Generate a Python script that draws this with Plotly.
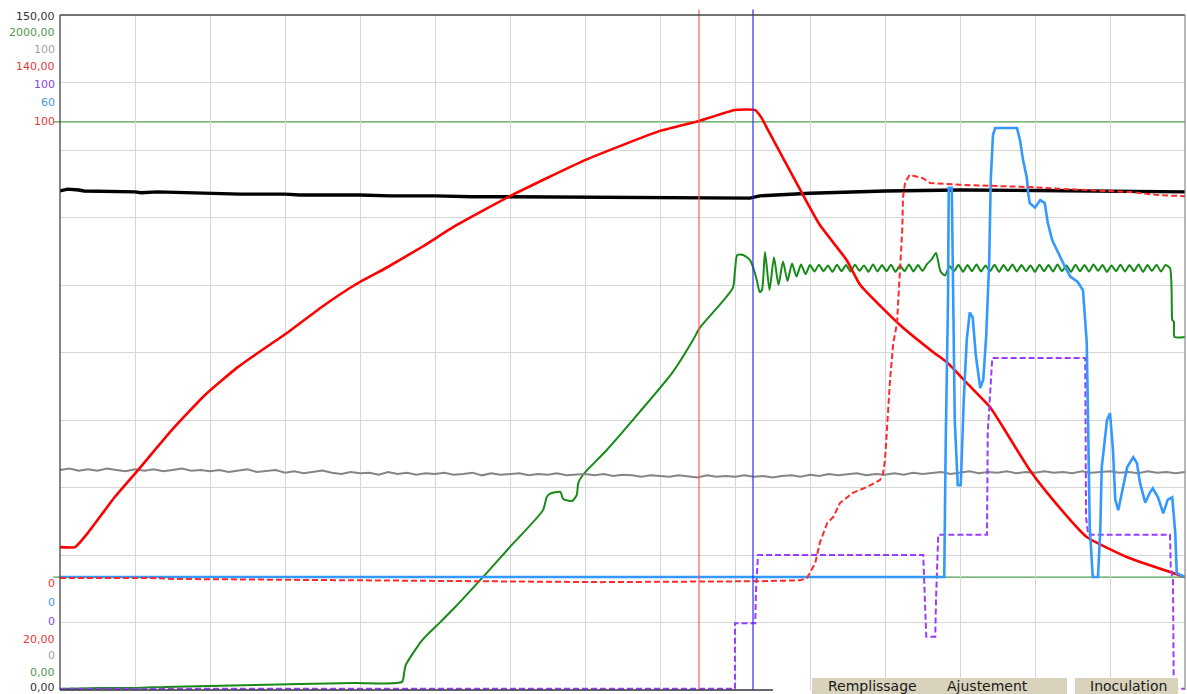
import plotly.graph_objects as go

# ---------------- data (time in minutes) ----------------
black_t = [0, 1, 2.5, 3.2, 10, 10.8, 13, 20, 24, 30, 32, 40, 44, 50, 55, 60, 70, 80, 86, 92,
           93.3, 95, 97, 100, 110, 120, 130, 140, 150]
black_v = [110.9, 111.3, 111.1, 110.9, 110.7, 110.5, 110.7, 110.4, 110.2, 110.2, 110.0, 110.0,
           109.8, 109.8, 109.6, 109.6, 109.5, 109.3, 109.2, 109.3, 109.8, 110.0, 110.2, 110.4,
           110.9, 111.1, 111.0, 110.9, 110.7]

gray_step = 1.25
gray_v = [32.6, 32.8, 32.5, 32.7, 32.5, 32.8, 32.6, 32.4, 32.7,
          32.5, 32.7, 32.4, 32.6, 32.8, 32.5, 32.6, 32.4,
          32.6, 32.3, 32.5, 32.7, 32.3, 32.4, 32.6, 32.2,
          32.4, 32.1, 32.3, 32.5, 32.2, 32.0, 32.3, 32.1,
          32.2, 31.9, 32.3, 32.0, 32.2, 31.9, 32.1, 32.0,
          32.2, 31.9, 32.0, 32.2, 31.8, 32.1, 31.9, 32.0,
          32.1, 31.8, 32.0, 31.9, 32.1, 31.8, 31.9, 32.0,
          31.8, 32.0, 31.7, 31.9, 31.8, 31.6, 31.8, 31.7,
          31.6, 31.8, 31.7, 31.5, 31.8, 31.6, 31.7, 31.6,
          31.8, 31.6, 31.7, 31.5, 31.7, 31.8, 31.6, 31.9,
          31.7, 32.0, 31.8, 31.9, 32.1, 31.8, 32.0, 31.9,
          32.1, 31.9, 32.2, 32.0, 32.1, 32.3, 32.0, 32.2,
          32.4, 32.1, 32.3, 32.2, 32.4, 32.1, 32.3, 32.2,
          32.4, 32.2, 32.3, 32.1, 32.4, 32.2, 32.3, 32.4,
          32.2, 32.3, 32.1, 32.4, 32.2, 32.3, 32.1, 32.3]

green_t_ramp = [0, 5.3, 10, 14, 20, 26, 32, 39.3, 45.6, 45.9, 46.1, 48.3, 50.7, 52.7, 56.9, 60,
                64.4, 64.9, 65.3, 66.7, 67.1, 68.3, 68.9, 69.1, 69.7, 72.9, 77.3, 81.7, 84.4,
                85.3, 89.7, 90.0, 90.3, 91.1, 92.0, 92.4, 92.9, 93.3, 93.6]
green_v_ramp = [3, 6, 6, 9, 12, 15, 18, 21, 24, 53, 74, 148, 201, 246, 347, 424, 533, 572, 581,
                587, 566, 560, 578, 613, 637, 711, 824, 942, 1037, 1073, 1191, 1244, 1289, 1289,
                1274, 1253, 1215, 1179, 1185]
green_osc_start = 94.0
green_osc_step = 0.6
green_v_osc = [1298, 1185, 1282, 1200, 1270, 1212, 1264, 1225, 1261, 1232,
               1259, 1240, 1260, 1241, 1258, 1239, 1260, 1241, 1259, 1240,
               1260, 1242, 1258, 1239, 1261, 1240, 1259, 1241, 1260, 1239,
               1258, 1241, 1261, 1240, 1259, 1242, 1262, 1275, 1295, 1240,
               1228, 1256, 1241, 1260, 1239, 1259, 1241, 1261, 1240, 1258,
               1241, 1260, 1239, 1259, 1242, 1261, 1240, 1259, 1241, 1258,
               1239, 1260, 1241, 1259, 1240, 1261, 1241, 1258, 1239, 1260,
               1241, 1259, 1240, 1261, 1242, 1259, 1239, 1258, 1241, 1260,
               1240, 1259, 1241, 1261, 1239, 1259, 1242, 1260, 1240, 1259,
               1250]
green_t_tail = [148.27, 148.33, 148.53, 148.6, 150]
green_v_tail = [1102, 1096, 1090, 1046, 1046]

red_t = [0, 2, 3.7, 7.3, 10.4, 14.9, 19.3, 23.7, 26.9, 30.4, 34.9, 39.3, 43.7, 48.3, 52.7, 60,
         70, 80, 85.3, 90, 92.7, 93.5, 94.5, 98.7, 101.3, 104.9, 106.7, 112, 116.4, 118.4, 120.9,
         124, 125.7, 129.3, 132.4, 136.9, 142.3, 148.4, 150]
red_v = [45.4, 45.4, 47.9, 54.3, 59.1, 66.2, 72.4, 77.4, 80.4, 83.6, 88.1, 92.0, 95.2, 98.8,
         102.5, 107.8, 114.2, 119.4, 121.2, 123.1, 123.1, 121.8, 119.3, 108.9, 102.7, 96.4, 92.0,
         84.9, 80.1, 78.1, 74.6, 70.3, 66.8, 59.1, 53.8, 47.2, 43.6, 40.8, 40.1]

reddash_t = [0, 12, 15.3, 44.7, 50.7, 72, 93.3, 98.7, 99.6, 100.7, 101.3, 102.3, 103.1, 104,
             105.7, 107.6, 109.3, 109.7, 110, 110.3, 110.7, 111.1, 111.6, 112, 112.3, 112.4,
             112.7, 113.3, 115.1, 116, 120, 125.3, 129.3, 136, 142.7, 146.7, 150]
reddash_v = [-0.2, -0.2, -0.4, -0.7, -0.9, -1.1, -0.9, -0.7, -0.2, 3.1, 7.5, 11.9, 13.2, 16.3,
             18.5, 19.8, 21.3, 22.4, 25.7, 34.5, 44.0, 51.4, 55.8, 67.5, 76.3, 83.5, 86.8, 88.4,
             87.6, 86.6, 86.2, 85.9, 85.7, 85.1, 84.6, 83.9, 83.7]

purple_t = [0, 90, 90, 92.7, 92.8, 93.07, 115.1, 115.2, 115.5, 116.7, 116.8, 117.1, 123.6,
            123.7, 124, 124.3, 136.7, 136.8, 137.1, 148, 148.1, 148.4, 148.5, 150]
purple_v = [0.2, 0.2, 9.9, 9.9, 14.8, 20.0, 20.0, 16.3, 7.9, 7.9, 13.3, 23.0, 23.0, 38.1, 44.4,
            49.2, 49.2, 25.6, 23.0, 23.0, 18.2, 16.3, 0.2, 0.2]

blue_t = [0, 117.9, 118.1, 118.4, 118.5, 118.9, 119.1, 119.3, 119.7, 120.1, 120.5, 120.9, 121.3,
          121.7, 122.1, 122.7, 123.1, 123.5, 123.9, 124.1, 124.4, 124.7, 127.6, 128, 128.4,
          128.9, 129.1, 129.3, 130, 130.7, 131.3, 131.7, 132.3, 133.1, 134, 134.7, 135.7, 136.4,
          136.9, 137.1, 137.3, 137.7, 138.4, 138.7, 138.9, 139.6, 140, 140.4, 140.7, 141.1,
          141.6, 142.3, 143.1, 143.6, 144, 144.7, 145.3, 145.7, 146.4, 147.1, 147.7, 148.3,
          148.7, 148.9, 150]
blue_v = [0, 0, 18.1, 36.5, 51.3, 51.3, 36.5, 20.7, 12.1, 12.1, 23.3, 31.3, 34.9, 34.2, 29.3,
          24.9, 26.0, 31.9, 41.8, 52.4, 58.3, 59.2, 59.2, 57.6, 55.0, 52.7, 50.6, 49.3, 48.7,
          49.7, 49.3, 46.7, 44.4, 42.7, 40.9, 39.6, 38.9, 37.8, 30.9, 19.0, 6.6, 0, 0, 6.2, 14.5,
          20.7, 21.6, 16.7, 10.2, 8.8, 11.1, 14.5, 15.8, 15.0, 12.4, 9.8, 11.1, 11.7, 10.5, 8.4,
          10.2, 10.5, 5.8, 0.5, 0]

cursor_red_t = 85.2
cursor_blue_t = 92.4
limit_values = [0, 100]

axis_max_labels = ["150,00", "2000,00", "100", "140,00", "100", "60", "100"]
axis_min_labels = ["0", "0", "0", "20,00", "0", "0,00", "0,00"]
tab_labels = ["Remplissage", "Ajustement", "Inoculation"]

# ---------------- figure ----------------
W, H = 1187, 694
L, R, T, B = 60, 2, 15, 4
PW, PH = W - L - R, H - T - B


def px_x(px):
    return (px - L) / PW


def px_y(py):
    return (H - B - py) / PH


gray_t = [i * gray_step for i in range(len(gray_v))]
green_t = green_t_ramp + [green_osc_start + i * green_osc_step for i in range(len(green_v_osc))] + green_t_tail
green_v = green_v_ramp + green_v_osc + green_v_tail

fig = go.Figure()
fig.add_trace(go.Scatter(x=gray_t, y=gray_v, yaxis="y3", mode="lines",
                         line=dict(color="#858585", width=2)))
fig.add_trace(go.Scatter(x=black_t, y=black_v, yaxis="y", mode="lines",
                         line=dict(color="#000000", width=3.4)))
fig.add_trace(go.Scatter(x=green_t, y=green_v, yaxis="y2", mode="lines",
                         line=dict(color="#178a17", width=2, shape="spline", smoothing=0.6)))
fig.add_trace(go.Scatter(x=reddash_t, y=reddash_v, yaxis="y7", mode="lines",
                         line=dict(color="#ff2a2a", width=2, dash="6px,3px")))
fig.add_trace(go.Scatter(x=purple_t, y=purple_v, yaxis="y5", mode="lines",
                         line=dict(color="#9a3cff", width=2, dash="6px,3px")))
fig.add_trace(go.Scatter(x=blue_t, y=blue_v, yaxis="y6", mode="lines",
                         line=dict(color="#3399ff", width=2.6)))
fig.add_trace(go.Scatter(x=red_t, y=red_v, yaxis="y4", mode="lines",
                         line=dict(color="#ff0000", width=2.6, shape="spline", smoothing=0.45)))

grid = "#d6d6d6"
fig.update_layout(
    width=W, height=H, margin=dict(l=L, r=R, t=T, b=B),
    paper_bgcolor="white", plot_bgcolor="white", showlegend=False, hovermode=False,
    xaxis=dict(range=[0, 150], dtick=10, showgrid=True, gridcolor=grid, gridwidth=1,
               showticklabels=False, zeroline=False, ticks=""),
    yaxis=dict(range=[0, 150], dtick=15, showgrid=True, gridcolor=grid, gridwidth=1,
               showticklabels=False, zeroline=False, ticks=""),
)
overlay = dict(overlaying="y", visible=False, showgrid=False, zeroline=False)
fig.update_layout(
    yaxis2=dict(range=[0, 2000], **overlay),
    yaxis3=dict(range=[0, 100], **overlay),
    yaxis4=dict(range=[20, 140], **overlay),
    yaxis5=dict(range=[0, 100], **overlay),
    yaxis6=dict(range=[-14.9, 74.1], **overlay),
    yaxis7=dict(range=[-24.8, 123.5], **overlay),
)

shapes = []
# limit lines (on dashed-red scale)
for lv in limit_values:
    shapes.append(dict(type="line", xref="paper", yref="y7", x0=-0.006, x1=1, y0=lv, y1=lv,
                       line=dict(color="#4ea04e", width=1.3), layer="below"))
# cursors
shapes.append(dict(type="line", xref="x", yref="paper", x0=cursor_red_t, x1=cursor_red_t,
                   y0=0, y1=1.008, line=dict(color="#ff5a5a", width=1.2)))
shapes.append(dict(type="line", xref="x", yref="paper", x0=cursor_blue_t, x1=cursor_blue_t,
                   y0=0, y1=1.008, line=dict(color="#2a2aff", width=1.2)))
# frame
frame = dict(color="#444444", width=1.3)
shapes.append(dict(type="line", xref="paper", yref="paper", x0=0, x1=0, y0=0, y1=1, line=frame))
shapes.append(dict(type="line", xref="paper", yref="paper", x0=0, x1=1, y0=1, y1=1, line=frame))
shapes.append(dict(type="line", xref="paper", yref="paper", x0=1, x1=1, y0=0, y1=1,
                   line=dict(color="#888888", width=1.2)))
shapes.append(dict(type="line", xref="paper", yref="paper", x0=0, x1=px_x(773), y0=0, y1=0,
                   line=dict(color="#333344", width=1.5)))
# tabs
tab_color = "#d9d3bd"
shapes.append(dict(type="rect", xref="paper", yref="paper", x0=px_x(812), x1=px_x(1067),
                   y0=px_y(694), y1=px_y(678), fillcolor=tab_color, line=dict(width=0)))
shapes.append(dict(type="rect", xref="paper", yref="paper", x0=px_x(1075), x1=px_x(1178),
                   y0=px_y(694), y1=px_y(678), fillcolor=tab_color, line=dict(width=0)))
fig.update_layout(shapes=shapes)

annotations = []
max_colors = ["#333333", "#4f9a4f", "#a3a3a3", "#e63a3a", "#8a45e0", "#4b95e0", "#e63a3a"]
min_colors = ["#e63a3a", "#4b95e0", "#8a45e0", "#e63a3a", "#a3a3a3", "#4f9a4f", "#333333"]
max_y = [16, 33, 49, 67, 84, 102, 121]
min_y = [583, 602, 621, 639, 655, 672, 687]
for txt, c, py in zip(axis_max_labels, max_colors, max_y):
    annotations.append(dict(text=txt, x=px_x(57), y=px_y(py), xref="paper", yref="paper",
                            xanchor="right", yanchor="middle", showarrow=False,
                            font=dict(family="DejaVu Sans", size=11, color=c)))
for txt, c, py in zip(axis_min_labels, min_colors, min_y):
    annotations.append(dict(text=txt, x=px_x(57), y=px_y(py), xref="paper", yref="paper",
                            xanchor="right", yanchor="middle", showarrow=False,
                            font=dict(family="DejaVu Sans", size=11, color=c)))
tab_x = [872, 987, 1128]
for txt, px in zip(tab_labels, tab_x):
    annotations.append(dict(text=txt, x=px_x(px), y=px_y(686), xref="paper", yref="paper",
                            xanchor="center", yanchor="middle", showarrow=False,
                            font=dict(family="DejaVu Sans", size=14, color="#1a1a1a")))
fig.update_layout(annotations=annotations)

fig.write_html("out.html", config={"displayModeBar": False},
               post_script="document.body.style.margin='0';document.body.style.overflow='hidden';")
